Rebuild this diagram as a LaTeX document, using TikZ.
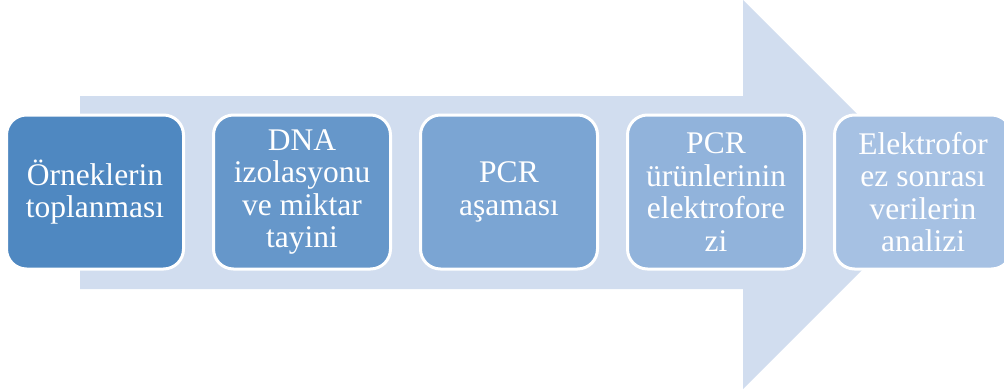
\documentclass[tikz,border=0pt]{standalone}
\usepackage{fontspec}
\setmainfont{Liberation Serif}
\usetikzlibrary{positioning}
\definecolor{flow arrow}{HTML}{D1DDEF}
\definecolor{st01}{HTML}{4F88C1}
\definecolor{st02}{HTML}{6697CA}
\definecolor{st03}{HTML}{7BA5D3}
\definecolor{st04}{HTML}{91B3DB}
\definecolor{st05}{HTML}{A6C1E3}
\tikzstyle{step box} = [%
	rectangle,
	draw=white,
	line width=3pt,
	rounded corners=20pt,
	minimum width=177pt,
	minimum height=154pt,
	inner sep=0pt,
	align=center,
	text=white,
	font=\fontsize{31.5}{32.5}\selectfont
]

\begin{document}
\begin{tikzpicture}[x=1pt, y=-1pt]
\useasboundingbox (0,0) rectangle (1004,389);

% background arrow
\fill[flow arrow] (80,96) -- (743,96) -- (743,0) -- (937.5,194.5)
  -- (743,389) -- (743,289) -- (80,289) -- cycle;

% steps
\begin{scope}[node distance=207pt]
	\node[step box, fill=st01] (collect) at (95,192) {Örneklerin\\toplanması};
	\node[step box, fill=st02, right of=collect] (isolate) {DNA\\izolasyonu\\ve miktar\\tayini};
	\node[step box, fill=st03, right of=isolate] (pcr) {PCR\\aşaması};
	\node[step box, fill=st04, right of=pcr] (gel) {PCR\\ürünlerinin\\elektrofore\\zi};
	\node[step box, fill=st05, right of=gel] (analysis) {Elektrofor\\ez sonrası\\verilerin\\analizi};
\end{scope}

\end{tikzpicture}
\end{document}
